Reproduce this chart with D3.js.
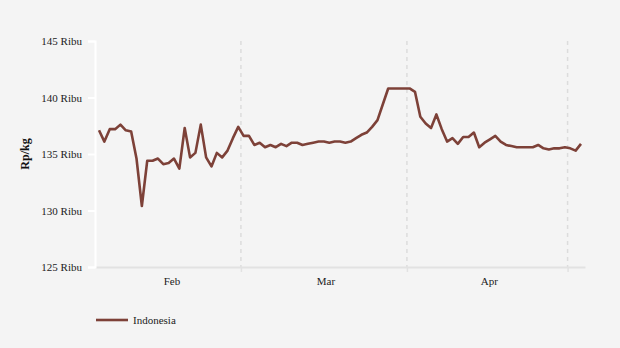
<!DOCTYPE html>
<html>
<head>
<meta charset="utf-8">
<script src="https://cdn.jsdelivr.net/npm/d3@7"></script>
<style>
  html, body { margin: 0; padding: 0; background: #f4f4f4; }
  svg { display: block; font-family: "Liberation Serif", "DejaVu Serif", serif; }
  svg text { font-family: "Liberation Serif", "DejaVu Serif", serif !important; }
</style>
</head>
<body>
<svg id="chart" width="620" height="348"></svg>
<script>
// ---- data ----
const startDate = "2024-02-03";
const seriesName = "Indonesia";
const values = [
  137.1, 136.1, 137.2, 137.2, 137.6, 137.1, 137.0, 134.6, 130.4, 134.4,
  134.4, 134.6, 134.1, 134.2, 134.6, 133.7, 137.3, 134.7, 135.1, 137.6,
  134.7, 133.9, 135.1, 134.7, 135.3, 136.4, 137.4, 136.6, 136.6, 135.8,
  136.0, 135.6, 135.8, 135.6, 135.9, 135.7, 136.0, 136.0, 135.8, 135.9,
  136.0, 136.1, 136.1, 136.0, 136.1, 136.1, 136.0, 136.1, 136.4, 136.7,
  136.9, 137.4, 138.0, 139.4, 140.8, 140.8, 140.8, 140.8, 140.8, 140.5,
  138.3, 137.7, 137.3, 138.5, 137.2, 136.1, 136.4, 135.9, 136.5, 136.5,
  136.9, 135.6, 136.0, 136.3, 136.6, 136.1, 135.8, 135.7, 135.6, 135.6,
  135.6, 135.6, 135.8, 135.5, 135.4, 135.5, 135.5, 135.6, 135.5, 135.3,
  135.9
];
const yTicks = [125, 130, 135, 140, 145];
const monthBoundaries = ["2024-03-01", "2024-04-01", "2024-05-01"];
const monthLabels = ["Feb", "Mar", "Apr"];
const yTitle = "Rp/kg";

// ---- build ----
const DAY = 864e5;
const SERIF = "'Liberation Serif', 'DejaVu Serif', serif";
const t0 = new Date(startDate + "T12:00:00");
const data = values.map((v, i) => ({ date: new Date(t0.getTime() + i * DAY), value: v }));
const bounds = monthBoundaries.map(s => new Date(s + "T00:00:00"));

const svg = d3.select("#chart");
const pL = 95, pR = 585, pT = 41, pB = 267;

const x = d3.scaleTime()
  .domain([new Date(data[0].date.getTime() - 0.75 * DAY), new Date(data[data.length - 1].date.getTime() + 0.75 * DAY)])
  .range([pL, pR]);
const y = d3.scaleLinear().domain([125, 145]).range([pB, pT]);

// vertical dashed gridlines at month boundaries
svg.append("g").selectAll("line").data(bounds).join("line")
  .attr("x1", d => x(d)).attr("x2", d => x(d))
  .attr("y1", pT).attr("y2", pB)
  .attr("stroke", "#dcdcdc").attr("stroke-width", 1.5)
  .attr("stroke-dasharray", "4,4");

// x axis
const xAxis = d3.axisBottom(x).tickValues(bounds).tickFormat("").tickSize(5).tickSizeOuter(0);
const gx = svg.append("g").attr("transform", `translate(0,${pB})`).call(xAxis);
gx.attr("font-family", SERIF);
gx.select(".domain").attr("stroke", "#e2e2e2").attr("stroke-width", 2);
gx.selectAll(".tick line").attr("stroke", "#e2e2e2").attr("stroke-width", 1.5);

// month labels centred in visible part of each month
const edges = [x.domain()[0], ...bounds];
const labelPos = monthLabels.map((m, i) => {
  const a = i === 0 ? data[0].date : edges[i];
  const b = edges[i + 1];
  return { label: m, x: (x(a) + x(b)) / 2 + 2 };
});
svg.append("g").attr("font-family", SERIF).selectAll("text").data(labelPos).join("text")
  .attr("x", d => d.x).attr("y", 285)
  .attr("text-anchor", "middle")
  .attr("font-size", 11).attr("fill", "#222")
  .text(d => d.label);

// y axis
const yAxis = d3.axisLeft(y).tickValues(yTicks).tickFormat(d => d + " Ribu").tickSize(7).tickPadding(6);
const gy = svg.append("g").attr("transform", `translate(${pL},0)`).call(yAxis);
gy.attr("font-family", SERIF).attr("font-size", 11);
gy.select(".domain").attr("stroke", "#ffffff").attr("stroke-width", 2);
gy.selectAll(".tick line").attr("stroke", "#ffffff").attr("stroke-width", 2);
gy.selectAll(".tick text").attr("fill", "#222");

// y title
svg.append("text")
  .attr("transform", `translate(29,${(pT + pB) / 2}) rotate(-90)`)
  .attr("text-anchor", "middle")
  .attr("font-family", SERIF)
  .attr("font-size", 12).attr("font-weight", "bold").attr("fill", "#111")
  .text(yTitle);

// line
const lineColor = "#7d4138";
svg.append("path").datum(data)
  .attr("fill", "none").attr("stroke", lineColor).attr("stroke-width", 2.6)
  .attr("stroke-linejoin", "round")
  .attr("d", d3.line().x(d => x(d.date)).y(d => y(d.value)));

// legend
const lg = svg.append("g").attr("transform", "translate(96,320)");
lg.append("line").attr("x1", 0).attr("x2", 32).attr("y1", 0).attr("y2", 0)
  .attr("stroke", lineColor).attr("stroke-width", 2.6);
lg.append("text").attr("x", 37).attr("y", 4).attr("font-family", SERIF)
  .attr("font-size", 11).attr("fill", "#222").text(seriesName);
</script>
</body>
</html>
